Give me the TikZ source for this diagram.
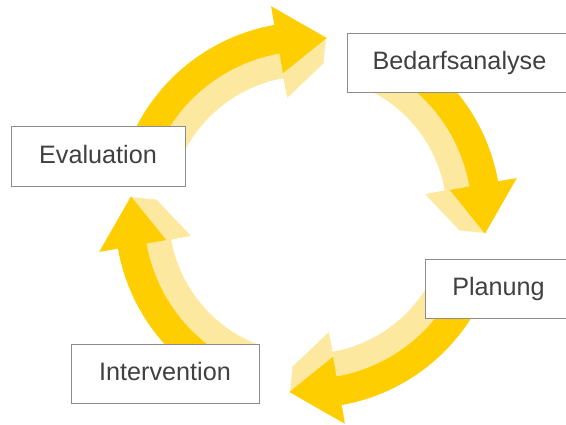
\documentclass[tikz,border=0pt]{standalone}
\usepackage{fontspec}
\setmainfont{Liberation Sans}

\definecolor{arrowgold}{RGB}{254,206,0}
\definecolor{arrowpale}{RGB}{253,232,160}
\definecolor{boxline}{RGB}{140,140,140}
\definecolor{boxtext}{RGB}{64,64,64}

% bent arrow round the origin, shrunk inwards by #1, tail at angle #2
\newcommand{\ringarrow}[2]{(#2:193-#1) arc[start angle=#2, end angle=100, radius=193-#1]
  -- (100:212-#1) -- (84:178-#1) -- (100:144-#1) -- (100:164-#1)
  arc[start angle=100, end angle=#2, radius=164-#1] -- cycle}

\tikzset{
  stage/.style={draw=boxline, line width=0.8pt, fill=white, text=boxtext,
    font=\fontsize{21.5}{25}\selectfont, text height=16pt, text depth=4pt,
    minimum height=1.77cm}
}

\begin{document}
\begin{tikzpicture}[x=0.03cm,y=0.03cm]
\useasboundingbox (-308,-210) rectangle (258,215);

\foreach \rot/\tail in {0/157,-90/157,-180/157,90/159} {
  \begin{scope}[rotate=\rot]
    \foreach \d in {25,23,...,1}
      \fill[arrowpale] \ringarrow{\d}{\tail};
    \fill[arrowgold] \ringarrow{0}{\tail};
  \end{scope}
}

\node[stage, minimum width=6.75cm] (bedarf) at (151.5,152.5) {Bedarfsanalyse};
\node[stage, minimum width=5.22cm, minimum height=1.8cm] (eval) at (-210,59) {Evaluation};
\node[stage, minimum width=4.41cm] (plan) at (190.5,-73.5) {Planung};
\node[stage, minimum width=5.64cm] (interv) at (-143,-158.5) {Intervention};
\end{tikzpicture}
\end{document}
